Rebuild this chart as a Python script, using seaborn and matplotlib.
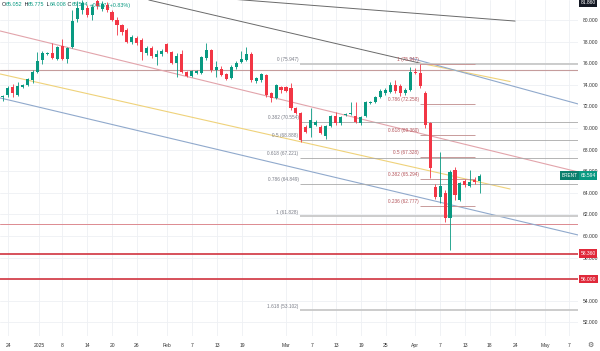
import numpy as np
import pandas as pd
import matplotlib
matplotlib.use("Agg")
import matplotlib.pyplot as plt
import seaborn as sns

# ---- daily candles (oldest first) ----
opens = [72.85, 73.05, 73.8, 73.1, 73.8, 74.0, 74.45, 75.2, 76.3, 76.85,
         76.9, 76.4, 77.6, 76.4, 77.5, 80.1, 80.9, 81.1, 80.5, 81.8,
         81.0, 81.4, 80.7, 80.0, 79.5, 79.1, 77.96, 78.33, 78.15, 76.94,
         77.41, 76.57, 76.85, 77.78, 77.04, 76.02, 76.85, 75.19, 74.81, 75.1,
         75.1, 76.48, 77.22, 75.37, 75.46, 75.0, 74.63, 75.65, 76.1, 76.3,
         76.85, 74.35, 74.44, 74.91, 73.24, 72.78, 73.8, 73.8, 73.7, 71.85,
         71.4, 70.1, 69.99, 70.3, 70.1, 69.26, 70.2, 71.1, 70.46, 71.2,
         71.3, 71.1, 70.46, 71.1, 72.3, 72.4, 72.9, 73.2, 73.3, 74.0,
         73.9, 73.24, 73.52, 75.19, 75.1, 73.24, 70.46, 64.54, 63.61, 64.0,
         61.67, 66.1, 63.33, 65.1, 64.63, 65.19, 65.052]
highs = [73.1, 73.9, 74.1, 74.3, 74.1, 74.6, 75.4, 77.0, 77.1, 77.0,
         77.9, 77.6, 78.2, 77.5, 80.9, 81.8, 81.85, 81.4, 81.5, 82.0,
         81.8, 81.7, 80.9, 80.3, 79.6, 79.3, 78.6, 78.5, 78.3, 77.6,
         77.6, 77.22, 77.3, 77.9, 77.1, 76.94, 77.2, 75.3, 75.4, 75.4,
         76.7, 77.87, 77.3, 76.2, 75.7, 75.1, 75.8, 76.2, 77.1, 77.5,
         77.0, 74.7, 75.1, 75.0, 73.3, 74.1, 73.9, 73.9, 74.2, 71.9,
         71.5, 70.3, 71.85, 70.7, 70.3, 70.3, 71.2, 71.5, 71.1, 71.4,
         72.4, 72.4, 71.1, 72.5, 72.5, 73.0, 73.6, 73.7, 74.3, 74.4,
         74.1, 73.7, 75.65, 75.6, 75.947, 73.4, 70.6, 64.8, 67.78, 64.3,
         66.1, 66.4, 65.0, 65.3, 66.1, 65.5, 65.775]
lows = [72.5, 72.9, 72.9, 73.0, 73.7, 73.9, 74.2, 75.1, 75.9, 76.8,
        76.4, 76.3, 76.3, 76.0, 77.4, 79.8, 80.6, 80.3, 80.0, 81.0,
        80.8, 80.7, 79.9, 78.6, 78.6, 77.9, 77.8, 77.7, 76.3, 76.8,
        76.5, 75.83, 76.7, 76.9, 75.9, 74.72, 75.1, 74.7, 74.7, 75.0,
        75.0, 76.3, 75.2, 74.7, 74.8, 74.4, 74.5, 75.5, 76.0, 76.2,
        74.3, 74.2, 74.3, 72.9, 72.4, 72.7, 73.2, 73.3, 71.7, 71.3,
        68.7, 69.5, 69.17, 70.2, 69.4, 69.0, 70.1, 70.3, 70.3, 71.1,
        71.2, 70.5, 70.3, 71.0, 72.2, 72.3, 72.8, 73.1, 73.2, 73.2,
        73.0, 73.1, 73.4, 75.0, 73.7, 70.0, 65.37, 63.4, 63.06, 61.3,
        58.708, 63.3, 63.2, 64.5, 64.5, 64.8, 64.008]
closes = [72.9, 73.7, 73.2, 73.9, 74.0, 74.5, 75.2, 76.2, 76.9, 76.95,
          76.5, 77.5, 76.4, 77.4, 79.9, 81.1, 81.6, 80.5, 81.2, 81.3,
          81.5, 80.9, 80.0, 79.5, 78.9, 78.0, 78.4, 77.87, 77.04, 77.41,
          76.67, 76.85, 77.13, 77.04, 76.02, 76.67, 75.19, 74.81, 75.28, 75.28,
          76.57, 77.22, 75.37, 75.65, 74.91, 74.54, 75.65, 76.02, 76.39, 76.85,
          74.44, 74.63, 75.0, 73.06, 72.78, 73.98, 73.5, 73.4, 71.85, 71.4,
          68.89, 69.63, 70.74, 70.56, 69.54, 70.2, 71.1, 70.46, 71.0, 71.3,
          71.4, 70.56, 71.0, 72.4, 72.4, 72.9, 73.4, 73.5, 74.0, 73.4,
          73.2, 73.52, 75.19, 75.1, 73.9, 70.28, 66.3, 63.61, 64.63, 61.67,
          65.93, 63.8, 64.91, 64.72, 65.0, 65.0, 65.594]

# date axis (bar index where each label sits)
date_labels = ["24", "2025", "8", "14", "20", "26", "Feb", "7", "13", "19", "Mar",
               "7", "13", "19", "25", "Apr", "7", "13", "18", "24", "May", "7"]
date_pos = [1.1, 7.3, 11.9, 17.0, 22.0, 27.0, 33.1, 38.1, 43.1, 48.2, 57.0,
            62.2, 67.1, 72.1, 77.1, 82.9, 88.0, 93.0, 98.0, 103.1, 109.1, 113.9]
price_ticks = list(range(52, 81, 2))

# fib retracement #1 (grey, from bar 60 to the right edge)
fib1_ratio = ["0", "0.382", "0.5", "0.618", "0.786", "1", "1.618"]
fib1_price = [75.947, 70.554, 68.888, 67.221, 64.849, 61.828, 53.102]
# fib retracement #2 (red, short)
fib2_ratio = ["1", "0.786", "0.618", "0.5", "0.382", "0.236"]
fib2_price = [75.947, 72.258, 69.360, 67.328, 65.294, 62.777]

# trend lines: (start bar, start price, end bar, end price)
trend_grey_flat = [40.0, 82.15, 103.1, 79.9]
trend_grey_steep = [29.4, 81.85, 84.0, 76.0]
trend_yellow_top = [84.0, 76.0, 102.1, 74.3]
trend_blue_top = [82.0, 76.48, 115.8, 72.22]
trend_pink = [-0.5, 78.98, 115.8, 65.93]
trend_yellow_low = [-0.5, 75.0, 102.1, 64.35]
trend_blue_low = [-0.5, 72.78, 115.8, 60.09]

# horizontal levels
level_brown = 75.37
level_thin_red = 61.1
levels_red = [58.36, 56.0]

last_price = 65.594
top_price = 81.86
ohlc_text = [("O", "#131722"), ("65.052", "#089981"), (" H", "#131722"), ("65.775", "#089981"),
             (" L", "#131722"), ("64.008", "#089981"), (" C", "#131722"), ("65.594", "#089981"),
             (" +0.537 (+0.83%)", "#089981")]

# ---- plot ----
sns.set_theme(style="white")
plt.rcParams["font.family"] = ["Liberation Sans", "DejaVu Sans"]

GREEN = "#089981"
RED = "#f23645"

fig = plt.figure(figsize=(6, 3.51), dpi=100)
ax = fig.add_axes([0, 15 / 351, 578 / 600, 336 / 351])

df = pd.DataFrame({"open": opens, "high": highs, "low": lows, "close": closes})
df["i"] = np.arange(len(df))
df["up"] = df["close"] >= df["open"]
colors = np.where(df["up"], GREEN, RED)

# grid
for p in date_pos:
    ax.axvline(p, color="#eef0f4", lw=0.6, zorder=0)
for p in price_ticks:
    ax.axhline(p, color="#eef0f4", lw=0.6, zorder=0)

# horizontal levels
ax.axhline(level_brown, color="#c59c9c", lw=0.8, zorder=1)
ax.axhline(level_thin_red, color="#dc8a90", lw=0.7, zorder=1)
for lv in levels_red:
    ax.axhline(lv, color="#d1343f", lw=1.2, zorder=1)

# trend lines
def seg(vals, color, lw=0.8):
    sns.lineplot(x=[vals[0], vals[2]], y=[vals[1], vals[3]], ax=ax,
                 color=color, lw=lw, zorder=1, estimator=None, sort=False)

seg(trend_grey_flat, "#6a6a6a", 0.7)
seg(trend_grey_steep, "#6a6a6a", 0.7)
seg(trend_pink, "#e2a4ab", 0.8)
seg(trend_yellow_low, "#efd27a", 0.8)
seg(trend_blue_low, "#90a9cc", 0.8)
seg(trend_yellow_top, "#efd27a", 0.8)
seg(trend_blue_top, "#90a9cc", 0.8)

# fib #1
fib1_start = 59.8
for r, pr in zip(fib1_ratio, fib1_price):
    lw = 1.3 if r in ("1", "1.618", "0") else 0.6
    col = "#c8c8c8" if lw > 1 else "#a8a8a8"
    ax.hlines(pr, fib1_start, 115.8, color=col, lw=lw, zorder=1)
    ax.annotate(f"{r} ({pr:.3f})", (fib1_start, pr), xytext=(-1, 1.2),
                textcoords="offset points", ha="right", va="bottom",
                fontsize=3.4, color="#787b86")

# fib #2
fib2_start, fib2_end = 84.0, 95.0
for r, pr in zip(fib2_ratio, fib2_price):
    ax.hlines(pr, fib2_start, fib2_end, color="#c89a9a", lw=0.7, zorder=1)
    ax.annotate(f"{r} ({pr:.3f})", (fib2_start, pr), xytext=(-1, 1.2),
                textcoords="offset points", ha="right", va="bottom",
                fontsize=3.4, color="#b4545a")

# candles
ax.vlines(df["i"], df["low"], df["high"], colors=colors, lw=0.6, zorder=3)
body = (df["close"] - df["open"]).abs().clip(lower=0.08)
bottom = df[["open", "close"]].min(axis=1)
ax.bar(df["i"], body, bottom=bottom, width=0.62, color=colors, lw=0, zorder=4)

ax.set_xlim(-0.54, 115.75)
ax.set_ylim(50.74, 81.85)
for s in ax.spines.values():
    s.set_visible(False)

ax.set_xticks(date_pos)
ax.set_xticklabels(date_labels)
ax.yaxis.tick_right()
ax.set_yticks(price_ticks)
# the 56 tick sits under the red 56.000 tag
ax.set_yticklabels(["" if p == 56 else f"{p:.3f}" for p in price_ticks])
ax.tick_params(axis="x", length=0, pad=5, labelsize=3.6, labelcolor="#333333")
ax.tick_params(axis="y", length=0, pad=3.5, labelsize=3.6, labelcolor="#333333")
ax.set_xlabel("")
ax.set_ylabel("")

# right-hand price tags
ytr = ax.get_yaxis_transform()
ax.text(0.999, last_price, "BRENT", transform=ytr, ha="right", va="center",
        fontsize=3.4, color="white", zorder=6,
        bbox=dict(boxstyle="square,pad=0.35", fc="#0b7f6e", ec="none"))
ax.text(1.004, last_price, f"{last_price:.3f}", transform=ytr, ha="left", va="center",
        fontsize=3.6, color="white", zorder=6, clip_on=False,
        bbox=dict(boxstyle="square,pad=0.35", fc=GREEN, ec="none"))
for lv in levels_red:
    ax.text(1.004, lv, f"{lv:.3f}", transform=ytr, ha="left", va="center",
            fontsize=3.6, color="white", zorder=6, clip_on=False,
            bbox=dict(boxstyle="square,pad=0.35", fc="#e0293a", ec="none"))
ax.text(1.004, 1.0, f"{top_price:.3f}", transform=ax.transAxes, ha="left", va="top",
        fontsize=3.6, color="white", zorder=6, clip_on=False,
        bbox=dict(boxstyle="square,pad=0.3", fc="#131722", ec="none"))

# OHLC legend at the top-left
fig.canvas.draw()
renderer = fig.canvas.get_renderer()
xpix = 2.0
for s, c in ohlc_text:
    t = fig.text(xpix / 600, 1 - 5 / 351, s, color=c, fontsize=3.9, va="center", ha="left")
    xpix += t.get_window_extent(renderer).width

fig.text(590 / 600, 1 - 345 / 351, "\u2699", fontsize=5, color="#555555",
         ha="center", va="center", family="DejaVu Sans")

fig.savefig("out.png", dpi=100, facecolor="white")
